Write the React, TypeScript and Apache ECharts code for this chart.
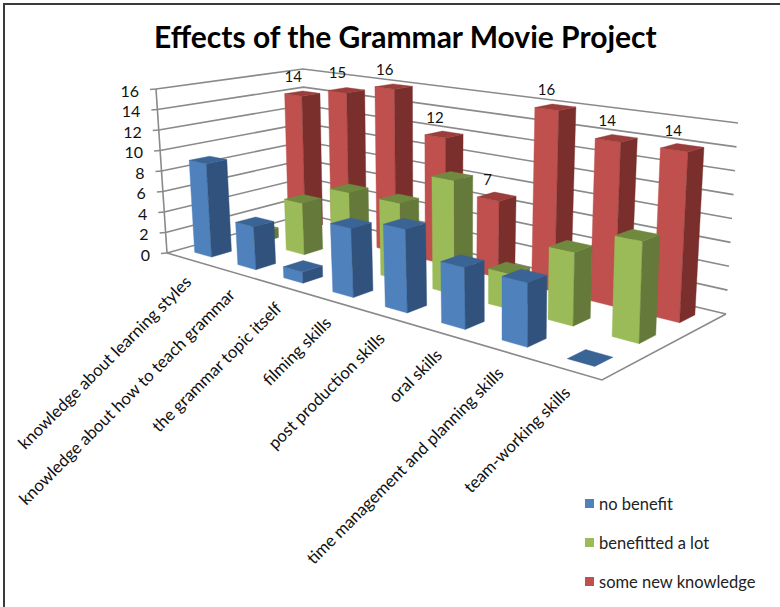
import React, { useEffect, useRef } from "react";
import * as echarts from "echarts";

const categories = [
  "knowledge about learning styles",
  "knowledge about how to teach grammar",
  "the grammar topic itself",
  "filming skills",
  "post production skills",
  "oral skills",
  "time management and planning skills",
  "team-working skills",
];
const noBenefit = [9, 4, 1, 6, 7, 5, 5, 0];
const benefittedALot = [1, 5, 7, 7, 10, 3, 6, 8];
const someNewKnowledge = [14, 15, 16, 12, 7, 16, 14, 14];
const yTicks = [0, 2, 4, 6, 8, 10, 12, 14, 16];
const titleText = "Effects of the Grammar Movie Project";

type P = [number, number];
function quadMap(p0: P, p1: P, p2: P, p3: P) {
  const dx1 = p1[0] - p2[0], dx2 = p3[0] - p2[0], sx = p0[0] - p1[0] + p2[0] - p3[0];
  const dy1 = p1[1] - p2[1], dy2 = p3[1] - p2[1], sy = p0[1] - p1[1] + p2[1] - p3[1];
  const den = dx1 * dy2 - dx2 * dy1;
  const wx = (sx * dy2 - dx2 * sy) / den;
  const wy = (dx1 * sy - sx * dy1) / den;
  const ux = p1[0] - p0[0] + wx * p1[0], uy = p3[0] - p0[0] + wy * p3[0];
  const vx = p1[1] - p0[1] + wx * p1[1], vy = p3[1] - p0[1] + wy * p3[1];
  return (x: number, y: number): P => {
    const w = 1 + wx * x + wy * y;
    return [(p0[0] + ux * x + uy * y) / w, (p0[1] + vx * x + vy * y) / w];
  };
}
const floorMap = quadMap([167, 253], [602, 380], [726, 314], [306, 214]);
const topMap = quadMap([156, 89], [606, 158], [738, 123], [303, 69]);
function project(x: number, y: number, z: number): P {
  const a = floorMap(x, y), b = topMap(x, y);
  return [a[0] + (b[0] - a[0]) * z, a[1] + (b[1] - a[1]) * z];
}

// the hidden grid fills the chart; its pixels normalise the library's scales
const GW = 780;
const GH = 607;
const FONT = "Lato, Carlito, sans-serif";
const LINE = "#8a8a8a";
const BAR_W = 0.4; // share of a category
const BAR_D = 0.4; // share of a series band

function barSeries(name: string, data: number[], band: number, z: number, front: string, side: string, top: string, labelled: boolean) {
  return {
    type: "custom",
    name,
    z,
    silent: true,
    clip: false,
    itemStyle: { color: front },
    encode: { x: 0, y: 1 },
    data: data.map((v, i) => [i, v]),
    renderItem: (_: any, api: any) => {
      const c = api.coord([api.value(0), api.value(1)]);
      const size = api.size([1, 0]);
      const cx = c[0] / GW;
      const zz = 1 - c[1] / GH;
      const hw = (size[0] / GW) * BAR_W * 0.5;
      const cy = (band + 0.5) / 3;
      const hd = (BAR_D / 3) * 0.5;
      const x0 = cx - hw, x1 = cx + hw, y0 = cy - hd, y1 = cy + hd;
      const poly = (pts: P[], fill: string) => ({
        type: "polygon",
        shape: { points: pts },
        style: { fill, stroke: fill, lineWidth: 0.4 },
      });
      const children: any[] = [];
      if (zz > 0) {
        children.push(poly([project(x0, y0, 0), project(x1, y0, 0), project(x1, y0, zz), project(x0, y0, zz)], front));
        children.push(poly([project(x1, y0, 0), project(x1, y1, 0), project(x1, y1, zz), project(x1, y0, zz)], side));
      }
      children.push(poly([project(x0, y0, zz), project(x1, y0, zz), project(x1, y1, zz), project(x0, y1, zz)], top));
      if (labelled) {
        const t = project(cx, cy, zz);
        children.push({
          type: "text",
          x: t[0] - 9,
          y: t[1] - 18,
          style: { text: String(api.value(1)), fill: "#111111", fontFamily: FONT, fontSize: 15, align: "center", verticalAlign: "middle" },
        });
      }
      return { type: "group", children };
    },
  };
}

const frameSeries = {
  type: "custom",
  name: "frame",
  z: 0,
  silent: true,
  clip: false,
  encode: { x: 0, y: 1 },
  data: yTicks.map((t) => [0, t]),
  renderItem: (_: any, api: any) => {
    const v = api.value(1);
    const zz = 1 - api.coord([0, v])[1] / GH;
    const ln = (pts: P[]) => ({
      type: "polyline",
      shape: { points: pts },
      style: { stroke: LINE, lineWidth: 1.6, fill: "none" },
    });
    const a = project(0, 0, zz), b = project(0, 1, zz), c = project(1, 1, zz);
    const children: any[] = [
      ln([a, b, c]),
      ln([[a[0] - 6, a[1] + 0.5], a]),
      {
        type: "text",
        x: a[0] - 17,
        y: a[1] + 1,
        style: { text: String(v), fill: "#111111", fontFamily: FONT, fontSize: 16, align: "right", verticalAlign: "middle" },
      },
    ];
    if (v === 0) {
      children.push(ln([project(0, 0, 0), project(1, 0, 0), project(1, 1, 0)]));
      children.push(ln([project(0, 0, 0), project(0, 0, 1)]));
    }
    return { type: "group", children };
  },
};

const categoryLabelSeries = {
  type: "custom",
  name: "labels",
  z: 4,
  silent: true,
  clip: false,
  encode: { x: 0, y: 1 },
  data: categories.map((_, i) => [i, 0]),
  renderItem: (_: any, api: any) => {
    const i = api.value(0);
    const c = api.coord([i, 0]);
    const p = project(c[0] / GW, 0, 0);
    return {
      type: "text",
      x: p[0],
      y: p[1] + 19.5,
      rotation: Math.PI / 4,
      style: { text: categories[i], fill: "#111111", fontFamily: FONT, fontSize: 16.8, align: "right", verticalAlign: "middle" },
    };
  },
};

export default function App() {
  const ref = useRef<HTMLDivElement>(null);
  useEffect(() => {
    const chart = echarts.init(ref.current!, undefined, { renderer: "svg" });
    chart.setOption({
      animation: false,
      backgroundColor: "#ffffff",
      title: {
        text: titleText,
        left: 149,
        top: 16,
        textStyle: { fontFamily: FONT, fontSize: 30, fontWeight: "bold", color: "#000000" },
      },
      graphic: [
        {
          type: "rect",
          shape: { x: 4, y: 4, width: 800, height: 700 },
          style: { fill: "none", stroke: "#3a3a3a", lineWidth: 2 },
          z: -1,
        },
      ],
      legend: {
        orient: "vertical",
        left: 580,
        top: 490,
        itemWidth: 9,
        itemHeight: 9,
        itemGap: 22,
        icon: "rect",
        data: ["no benefit", "benefitted a lot", "some new knowledge"],
        textStyle: { fontFamily: FONT, fontSize: 16.5, color: "#222222" },
        selectedMode: false,
      },
      grid: { left: 0, top: 0, right: 0, bottom: 0, containLabel: false },
      xAxis: { type: "category", data: categories, show: false },
      yAxis: { type: "value", min: 0, max: 16, interval: 2, show: false },
      series: [
        barSeries("no benefit", noBenefit, 0, 3, "#4f81bd", "#31527c", "#3a6396", false),
        barSeries("benefitted a lot", benefittedALot, 1, 2, "#9bbb59", "#64793a", "#6f8a3e", false),
        barSeries("some new knowledge", someNewKnowledge, 2, 1, "#c0504d", "#7a2f2d", "#9b3d3a", true),
        frameSeries,
        categoryLabelSeries,
      ],
    });
    return () => chart.dispose();
  }, []);
  return <div ref={ref} style={{ position: "absolute", left: 0, top: 0, width: 780, height: 607 }} />;
}
